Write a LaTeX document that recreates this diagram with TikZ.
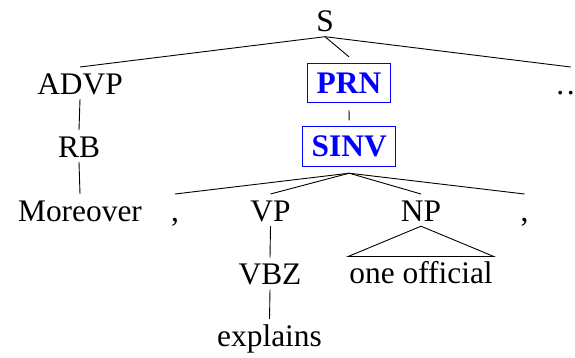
\documentclass[tikz,border=0pt]{standalone}
\usepackage{fontspec}
\setmainfont{Liberation Serif}
\begin{document}
\begin{tikzpicture}[x=1pt,y=-1pt,
  every node/.style={font=\fontsize{31.4}{36}\selectfont},
  lbl/.style={anchor=base,inner xsep=0pt,inner ysep=5pt,text height=21.8pt,text depth=0pt},
  hibox/.style={draw=blue,line width=0.9pt,text=blue,font=\fontsize{31.4}{36}\selectfont\bfseries,
    inner xsep=9pt,inner ysep=0pt,text height=21pt,text depth=0pt,minimum height=39.5pt},
  edge/.style={draw=black,line width=0.9pt}]
\useasboundingbox (0,0) rectangle (575,357);

% labels of the tree
\node[lbl] (S) at (325,31.5) {S};
\node[lbl] (advp) at (80,94) {ADVP};
\node[hibox] (prn) at (349,83) {PRN};
\node[lbl] (more) at (570.7,94) {…};
\node[lbl] (rb) at (79,157) {RB};
\node[hibox] (sinv) at (349.2,146.3) {SINV};
\node[lbl] (moreover) at (80,221) {Moreover};
\node[lbl] (comA) at (175,221) {,};
\node[lbl] (vp) at (270.5,221) {VP};
\node[lbl] (np) at (421,221) {NP};
\node[lbl] (comB) at (524.5,221) {,};
\node[lbl] (vbz) at (270,284.5) {VBZ};
\node[lbl,inner xsep=1pt] (off) at (421,283.5) {one official};
\node[lbl] (expl) at (269.5,346) {explains};

% branches
\draw[edge] (S.south) -- (advp.north);
\draw[edge] (S.south) -- ([yshift=6pt]prn.north);
\draw[edge] (S.south) -- (more.north);
\draw[edge] ([yshift=-7pt]prn.south) -- ([yshift=5.7pt]sinv.north);
\draw[edge] (advp.south) -- (rb.north);
\draw[edge] (rb.south) -- (moreover.north);
\coordinate (sinvb) at ([yshift=-6.7pt]sinv.south);
\draw[edge] (sinvb) -- (comA.north);
\draw[edge] (sinvb) -- (vp.north);
\draw[edge] (sinvb) -- (np.north);
\draw[edge] (sinvb) -- (comB.north);
\draw[edge] (vp.south) -- (vbz.north);
\draw[edge] (vbz.south) -- (expl.north);
% collapsed NP
\draw[edge] (np.south) -- (off.north west) -- (off.north east) -- cycle;
\end{tikzpicture}
\end{document}
